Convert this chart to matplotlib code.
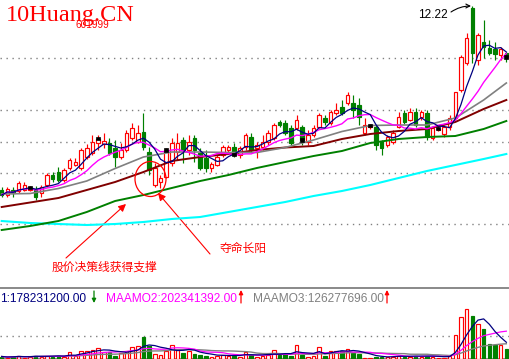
import numpy as np
import pandas as pd
import matplotlib
matplotlib.use("Agg")
import matplotlib.pyplot as plt
from matplotlib.patches import Rectangle, Ellipse

# ---------------- data ----------------
opens = [8.54, 8.44, 8.54, 8.52, 8.54, 8.54, 8.56, 8.48, 8.64, 8.84,
         8.90, 8.74, 8.98, 9.04, 8.98, 9.20, 9.28, 9.48, 9.46, 9.48,
         9.38, 9.20, 9.34, 9.58, 9.50, 9.70, 9.30, 8.64, 8.70, 8.80,
         9.08, 9.30, 9.54, 9.34, 9.58, 9.28, 9.18, 8.98, 9.04, 9.24,
         9.34, 9.40, 9.24, 9.40, 9.60, 9.38, 9.40, 9.50, 9.58, 9.90,
         9.88, 9.78, 9.78, 9.80, 9.50, 9.64, 9.80, 9.98, 9.88, 10.08,
         10.20, 10.28, 10.28, 10.24, 9.68, 9.80, 9.80, 9.50, 9.44, 9.50,
         9.80, 10.08, 9.94, 10.10, 10.00, 10.08, 9.58, 9.75, 9.66, 9.80,
         9.98, 10.54, 11.08, 12.18, 11.14, 11.50, 11.38, 11.36, 11.24, 11.28]
highs = [8.60, 8.60, 8.60, 8.72, 8.70, 8.62, 8.62, 8.64, 8.88, 8.90,
         9.00, 8.98, 9.18, 9.18, 9.38, 9.46, 9.64, 9.64, 9.68, 9.58,
         9.54, 9.48, 9.74, 9.88, 9.84, 10.08, 9.40, 9.08, 8.84, 9.38,
         9.58, 9.68, 9.60, 9.64, 9.64, 9.38, 9.34, 9.10, 9.24, 9.44,
         9.44, 9.48, 9.42, 9.68, 9.68, 9.50, 9.64, 9.74, 9.88, 9.94,
         9.94, 9.84, 10.04, 9.84, 9.74, 9.84, 10.08, 10.04, 10.14, 10.28,
         10.34, 10.50, 10.44, 10.38, 9.98, 9.86, 9.84, 9.54, 9.64, 9.74,
         10.10, 10.14, 10.18, 10.18, 10.14, 10.14, 9.82, 9.82, 9.84, 10.04,
         10.50, 11.24, 11.68, 12.22, 11.68, 11.94, 11.54, 11.50, 11.40, 11.30]
lows = [8.40, 8.40, 8.40, 8.48, 8.52, 8.52, 8.34, 8.40, 8.60, 8.70,
        8.70, 8.70, 8.94, 9.02, 8.94, 9.16, 9.24, 9.34, 9.38, 9.24,
        9.00, 9.16, 9.30, 9.54, 9.48, 9.34, 8.84, 8.60, 8.58, 8.78,
        9.02, 9.14, 9.08, 9.24, 9.10, 8.94, 8.90, 8.90, 9.02, 9.20,
        9.30, 9.20, 9.18, 9.34, 9.30, 9.18, 9.34, 9.44, 9.54, 9.80,
        9.64, 9.44, 9.74, 9.44, 9.44, 9.60, 9.78, 9.84, 9.84, 10.04,
        10.04, 10.24, 9.98, 9.84, 9.64, 9.76, 9.34, 9.24, 9.40, 9.46,
        9.78, 9.86, 9.92, 9.80, 9.94, 9.54, 9.54, 9.72, 9.60, 9.74,
        9.94, 10.50, 11.04, 11.08, 11.04, 11.18, 11.24, 11.14, 11.14, 11.10]
closes = [8.44, 8.56, 8.48, 8.68, 8.64, 8.58, 8.40, 8.60, 8.84, 8.76,
          8.74, 8.94, 9.14, 9.10, 9.34, 9.38, 9.50, 9.56, 9.52, 9.28,
          9.20, 9.34, 9.68, 9.78, 9.68, 9.40, 8.94, 8.98, 8.78, 9.34,
          9.48, 9.48, 9.34, 9.50, 9.34, 8.98, 8.98, 9.06, 9.20, 9.40,
          9.40, 9.24, 9.38, 9.64, 9.34, 9.44, 9.50, 9.68, 9.84, 9.84,
          9.68, 9.48, 9.94, 9.54, 9.64, 9.78, 10.04, 9.90, 10.10, 10.14,
          10.08, 10.44, 10.14, 10.00, 9.84, 9.82, 9.44, 9.38, 9.60, 9.68,
          10.00, 9.90, 10.10, 9.84, 10.10, 9.60, 9.78, 9.77, 9.80, 9.98,
          10.50, 11.20, 11.58, 11.28, 11.64, 11.40, 11.28, 11.26, 11.36, 11.20]
# turnover amount (million yuan)
amount = [18, 9, 18, 27, 9, 18, 27, 18, 27, 18,
          27, 18, 58, 27, 72, 72, 81, 99, 63, 63,
          27, 54, 72, 108, 117, 194, 117, 45, 36, 72,
          126, 81, 54, 72, 45, 36, 27, 18, 27, 36,
          27, 27, 18, 63, 36, 18, 27, 36, 76, 36,
          45, 27, 122, 36, 18, 27, 108, 27, 72, 72,
          72, 90, 54, 45, 9, 9, 18, 18, 18, 18,
          27, 18, 18, 27, 18, 27, 18, 9, 9, 22,
          212, 376, 446, 383, 311, 266, 135, 122, 122, 86]
mark_idx = [5, 17, 29, 41, 53, 65, 77, 89]

ma_idx = [0, 5, 10, 15, 20, 25, 30, 35, 40, 45, 50, 55, 60, 65, 70, 75, 80, 85, 89]
ma20 = [8.46, 8.47, 8.57, 8.72, 8.97, 9.20, 9.30, 9.30, 9.29, 9.29,
        9.39, 9.54, 9.71, 9.83, 9.84, 9.84, 9.98, 10.34, 10.68]
ma30 = [8.20, 8.29, 8.38, 8.54, 8.70, 8.90, 9.12, 9.20, 9.26, 9.34,
        9.39, 9.42, 9.56, 9.66, 9.72, 9.76, 9.90, 10.16, 10.34]
ma60 = [7.74, 7.82, 7.92, 8.10, 8.32, 8.44, 8.58, 8.72, 8.84, 8.98,
        9.10, 9.22, 9.32, 9.48, 9.56, 9.60, 9.62, 9.76, 9.92]
ma120 = [7.92, 7.88, 7.86, 7.84, 7.86, 7.90, 7.96, 8.00, 8.10, 8.20,
         8.30, 8.42, 8.52, 8.64, 8.78, 8.92, 9.04, 9.16, 9.26]

grid_prices = [11.18, 10.14, 9.50, 8.88, 7.86]
vol_grid = [200]

legend_texts = ["1:178231200.00", "MAAMO2:202341392.00", "MAAMO3:126277696.00"]
title_text = "10Huang.CN"
code_text = "601999"
high_label = "12.22"
note1 = "股价决策线获得支撑"
note2 = "夺命长阳"

# ---------------- style ----------------
RED = "#ff0000"
GREEN = "#008000"
GRAY = "#808080"
W, H = 510, 359
STEP = 5.67
X0 = 1.7
P_TOP = 12.34
P_PER_PX = 0.02

fig = plt.figure(figsize=(W / 100, H / 100), dpi=100)
fig.patch.set_facecolor("white")
ax = fig.add_axes([0, 71 / H, 1, 288 / H])
axv = fig.add_axes([0, 0.5 / H, 1, 70.5 / H])

xlim = (-X0 / STEP, -X0 / STEP + W / STEP)
for a in (ax, axv):
    a.set_xlim(*xlim)
    a.set_xticks([])
    a.set_yticks([])
    a.set_facecolor("white")
ax.set_ylim(P_TOP - P_PER_PX * 288, P_TOP)
axv.set_ylim(0, 70.5 * 9)

for s in ax.spines.values():
    s.set_visible(False)
for k, s in axv.spines.items():
    if k == "left":
        s.set_visible(False)
    else:
        s.set_color(GRAY)
        s.set_linewidth(1.3)

dots = (0, (1, 3.3))
for p in grid_prices:
    ax.axhline(p, color=GRAY, lw=1.0, ls=dots, zorder=1)
for v in vol_grid:
    axv.axhline(v, color=GRAY, lw=1.0, ls=dots, zorder=1)

n = len(closes)
idx = np.arange(n)
bw = 0.62

# candles
for i in range(n):
    o, h, l, c = opens[i], highs[i], lows[i], closes[i]
    up = c >= o
    col = RED if up else GREEN
    top, bot = max(o, c), min(o, c)
    ax.vlines(i, top, h, color=col, lw=0.85, zorder=3)
    ax.vlines(i, l, bot, color=col, lw=0.85, zorder=3)
    ax.add_patch(Rectangle((i - bw / 2, bot), bw, max(top - bot, 0.012),
                           facecolor="white" if up else col, edgecolor=col,
                           lw=0.85, zorder=3))
for i in mark_idx:
    ax.add_patch(Rectangle((i - 0.38, closes[i] - 0.03), 0.76, 0.06,
                           facecolor="black", edgecolor="black", lw=0.5, zorder=6))

# moving averages
cs = pd.Series(closes)
ma5 = cs.rolling(5, min_periods=1).mean()
ma10 = cs.rolling(10, min_periods=1).mean()
ax.plot(ma_idx, ma120, color="#00ffff", lw=1.5, zorder=4)
ax.plot(ma_idx, ma60, color="#008000", lw=1.4, zorder=4)
ax.plot(ma_idx, ma30, color="#800000", lw=1.4, zorder=4)
ax.plot(ma_idx, ma20, color=GRAY, lw=1.2, zorder=4)
ax.plot(idx, ma10, color="#ff00ff", lw=1.0, zorder=5)
ax.plot(idx, ma5, color="#000080", lw=0.9, zorder=5)

# volume
for i in range(n):
    up = closes[i] >= opens[i]
    col = RED if up else GREEN
    axv.add_patch(Rectangle((i - bw / 2, 0), bw, amount[i],
                            facecolor="white" if up else col, edgecolor=col,
                            lw=0.85, zorder=3))
vs = pd.Series(amount)
axv.plot(idx, vs.rolling(20, min_periods=1).mean(), color=GRAY, lw=1.0, zorder=4)
axv.plot(idx, vs.rolling(10, min_periods=1).mean(), color="#ff00ff", lw=0.9, zorder=4)
axv.plot(idx, vs.rolling(5, min_periods=1).mean(), color="#000080", lw=0.9, zorder=4)


# ---------------- annotations ----------------
def dpt(x, y):
    """pixel position -> main axes data coords"""
    return ((x - X0) / STEP, P_TOP - P_PER_PX * y)


def fpx(x, y):
    return (x, H - y)


fig.text(6 / W, 1 - 21 / H, title_text, color=RED, fontsize=17.5,
         family="Liberation Serif", va="baseline", ha="left")
fig.text(75 / W, 1 - 27.5 / H, code_text, color=RED, fontsize=7.2,
         family="Liberation Sans", va="baseline", ha="left")
fig.text(418 / W, 1 - 18 / H, high_label, color="black", fontsize=8.6,
         family="Liberation Sans", va="baseline", ha="left")
ax.annotate("", xy=fpx(471, 6), xytext=fpx(451, 12), xycoords="figure pixels",
            textcoords="figure pixels",
            arrowprops=dict(arrowstyle="->", color="black", lw=0.8,
                            shrinkA=0, shrinkB=0, mutation_scale=7,
                            connectionstyle="arc3,rad=-0.15"))

cjk = ["Noto Sans CJK SC", "DejaVu Sans"]
fig.text(52 / W, 1 - 267 / H, note1, color=RED, fontsize=8.5, family=cjk,
         va="center", ha="left")
fig.text(220 / W, 1 - 248 / H, note2, color=RED, fontsize=8.5, family=cjk,
         va="center", ha="left")
ax.annotate("", xy=dpt(126, 204), xytext=dpt(66, 258),
            arrowprops=dict(arrowstyle="-|>", color=RED, lw=0.8,
                            shrinkA=0, shrinkB=0, mutation_scale=11))
ax.annotate("", xy=dpt(158, 193), xytext=dpt(210, 254),
            arrowprops=dict(arrowstyle="-|>", color=RED, lw=0.8,
                            shrinkA=0, shrinkB=0, mutation_scale=11))
ecx, ecy = dpt(150.5, 179)
ax.add_patch(Ellipse((ecx, ecy), 31 / STEP, 35 * P_PER_PX, fill=False,
                     edgecolor=RED, lw=0.9, zorder=7))

# volume legend
leg_cols = ["#000080", "#ff00ff", GRAY]
leg_x = [0, 106, 253]
for t, c, x in zip(legend_texts, leg_cols, leg_x):
    fig.text(x / W, 1 - 302 / H, t, color=c, fontsize=8.6,
             family="Liberation Sans", va="baseline", ha="left")
for x, col, down in [(94, GREEN, True), (241, RED, False), (387, RED, False)]:
    if down:
        a0, a1 = fpx(x, 291), fpx(x, 303)
    else:
        a0, a1 = fpx(x, 303), fpx(x, 290)
    axv.annotate("", xy=a1, xytext=a0, xycoords="figure pixels",
                 textcoords="figure pixels",
                 arrowprops=dict(arrowstyle="-|>", color=col, lw=0.9,
                                 shrinkA=0, shrinkB=0, mutation_scale=6))

fig.savefig("out.png", dpi=100, facecolor="white")
